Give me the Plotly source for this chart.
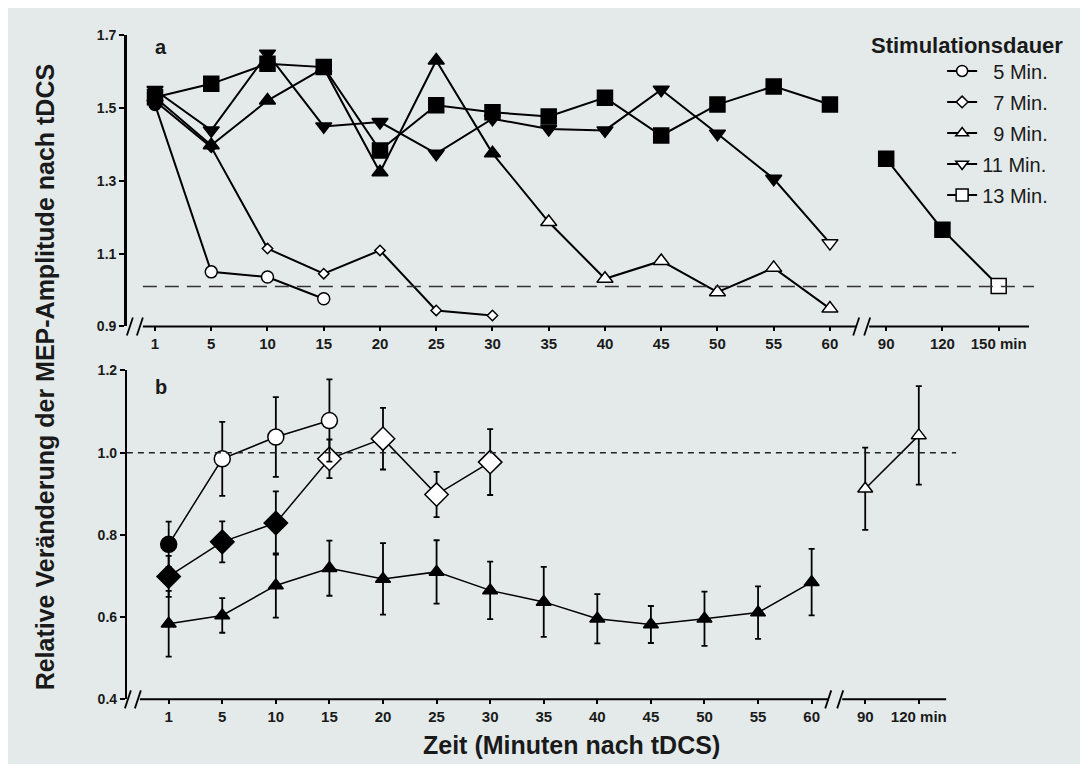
import plotly.graph_objects as go

# The page has an 8px body margin; a 1072x756 figure fills a 1088x772 page.
W, H = 1072, 756
OFF = 8
# empirical vertical calibration of the rendered page
VS, VO = 0.979, 7.7


def fx(p):
    return (p - OFF) / W


def fy(p):
    q = (p - VO) / VS
    return 1 - (q - OFF) / H


# ---------------- data ----------------
top_labels = ["1", "5", "10", "15", "20", "25", "30", "35", "40", "45",
              "50", "55", "60", "90", "120", "150 min"]
bot_labels = ["1", "5", "10", "15", "20", "25", "30", "35", "40", "45",
              "50", "55", "60", "90", "120 min"]
legend_names = ["5 Min.", "7 Min.", "9 Min.", "11 Min.", "13 Min."]

# panel a: mean relative MEP amplitude (values aligned with top_labels)
a_5 = [1.51, 1.05, 1.036, 0.976]
a_7 = [1.52, 1.393, 1.114, 1.045, 1.109, 0.944, 0.930]
a_9 = [1.53, 1.398, 1.521, 1.61, 1.324, 1.631, 1.376, 1.187, 1.031, 1.080,
       0.994, 1.061, 0.949]
a_11 = [1.55, 1.439, 1.650, 1.450, 1.462, 1.375, 1.471, 1.443, 1.439, 1.551,
        1.430, 1.306, 1.129]
a_13 = [1.53, 1.567, 1.622, 1.613, 1.384, 1.508, 1.489, 1.477, 1.529, 1.425,
        1.510, 1.560, 1.510, 1.361, 1.166, 1.011]
# significant (filled) = 1, not significant (open) = 0
a_5_sig = [1, 0, 0, 0]
a_7_sig = [1, 1, 0, 0, 0, 0, 0]
a_9_sig = [1, 1, 1, 1, 1, 1, 1, 0, 0, 0, 0, 0, 0]
a_11_sig = [1, 1, 1, 1, 1, 1, 1, 1, 1, 1, 1, 1, 0]
a_13_sig = [1, 1, 1, 1, 1, 1, 1, 1, 1, 1, 1, 1, 1, 1, 1, 0]

# panel b: mean and SEM (values aligned with bot_labels)
b_5 = [0.777, 0.985, 1.038, 1.078]
b_5_err = [0.055, 0.09, 0.097, 0.10]
b_5_sig = [1, 0, 0, 0]
b_7 = [0.699, 0.783, 0.829, 0.985, 1.034, 0.898, 0.977]
b_7_err = [0.05, 0.05, 0.077, 0.047, 0.075, 0.055, 0.08]
b_7_sig = [1, 1, 1, 0, 0, 0, 0]
b_9 = [0.584, 0.604, 0.677, 0.719, 0.693, 0.710, 0.665, 0.637, 0.596, 0.582,
       0.596, 0.611, 0.685, 0.912, 1.042]
b_9_err = [0.08, 0.042, 0.078, 0.067, 0.087, 0.077, 0.07, 0.085, 0.06, 0.045,
           0.066, 0.064, 0.081, 0.10, 0.12]
b_9_sig = [1, 1, 1, 1, 1, 1, 1, 1, 1, 1, 1, 1, 1, 0, 0]

ref_a = 1.01
ref_b = 1.0
BREAK = 13  # axis break between "60" and "90"

FONT = "Liberation Sans, Arial, sans-serif"
INK = "#1a1a1a"

fig = go.Figure()


def add_series(vals, sig, symbol, size, xa, ya, lw, mlw, err=None):
    idx = list(range(len(vals)))
    segs = [[i for i in idx if i < BREAK], [i for i in idx if i >= BREAK]]
    for seg in segs:
        if not seg:
            continue
        tr = dict(
            x=seg, y=[vals[i] for i in seg], mode="lines+markers",
            line=dict(color="black", width=lw),
            marker=dict(symbol=symbol, size=size,
                        color=["black" if sig[i] else "white" for i in seg],
                        line=dict(color="black", width=mlw)),
            showlegend=False, xaxis=xa, yaxis=ya, hoverinfo="x+y",
        )
        if err is not None:
            tr["error_y"] = dict(type="data", array=[err[i] for i in seg],
                                 visible=True, color="black", thickness=1.8,
                                 width=3)
        fig.add_trace(go.Scatter(**tr))


# panel a
add_series(a_5, a_5_sig, "circle", 12, "x", "y", 2, 1.5)
add_series(a_7, a_7_sig, "diamond", 8, "x", "y", 2, 1.5)
add_series(a_9, a_9_sig, "triangle-up", 14, "x", "y", 2, 1.5)
add_series(a_11, a_11_sig, "triangle-down", 14, "x", "y", 2, 1.5)
add_series(a_13, a_13_sig, "square", 15, "x", "y", 2, 1.5)

# panel b
add_series(b_9, b_9_sig, "triangle-up", 13, "x2", "y2", 1.5, 1.5, b_9_err)
add_series(b_7, b_7_sig, "diamond", 18, "x2", "y2", 1.5, 1.5, b_7_err)
add_series(b_5, b_5_sig, "circle", 16, "x2", "y2", 1.5, 1.5, b_5_err)

# legend entries (open symbols)
leg_symbols = ["circle", "diamond", "triangle-up", "triangle-down", "square"]
leg_sizes = [11, 9, 11, 11, 12]
for name, sym, sz in zip(legend_names, leg_symbols, leg_sizes):
    label = ("\u00a0\u00a0" + name) if len(name.split()[0]) == 1 else name
    fig.add_trace(go.Scatter(
        x=[None], y=[None], mode="lines+markers", name=label,
        legendgroup=name,
        line=dict(color="black", width=2),
        marker=dict(symbol=sym, size=sz, color="white",
                    line=dict(color="black", width=1.5)),
        xaxis="x", yaxis="y"))

tickfont = dict(family=FONT, size=15, color=INK, weight="bold")
yfont = dict(family=FONT, size=14, color=INK, weight="bold")

fig.update_layout(
    width=W, height=H, autosize=False,
    margin=dict(l=0, r=0, t=0, b=0),
    paper_bgcolor="#e4eaea", plot_bgcolor="rgba(0,0,0,0)",
    xaxis=dict(domain=[fx(127), fx(1030)], range=[-0.5, 15.54], anchor="y",
               tickmode="array", tickvals=list(range(len(top_labels))),
               ticktext=top_labels, ticks="outside", ticklen=4, tickwidth=1.5,
               tickcolor="black", showline=False, showgrid=False,
               zeroline=False, tickfont=tickfont),
    yaxis=dict(domain=[fy(326), fy(35)], range=[0.9, 1.7], anchor="x",
               tick0=0.9, dtick=0.2, tickformat=".1f", ticks="outside",
               ticklen=5, tickwidth=1.5, tickcolor="black", showline=True,
               linecolor="black", linewidth=2.5, showgrid=False,
               zeroline=False, tickfont=yfont),
    xaxis2=dict(domain=[fx(127), fx(947)], range=[-0.78, 14.51], anchor="y2",
                tickmode="array", tickvals=list(range(len(bot_labels))),
                ticktext=bot_labels, ticks="outside", ticklen=4,
                tickwidth=1.5, tickcolor="black", showline=False,
                showgrid=False, zeroline=False, tickfont=tickfont),
    yaxis2=dict(domain=[fy(699), fy(370)], range=[0.4, 1.2], anchor="x2",
                tick0=0.4, dtick=0.2, tickformat=".1f", ticks="outside",
                ticklen=5, tickwidth=1.5, tickcolor="black", showline=True,
                linecolor="black", linewidth=2, showgrid=False,
                zeroline=False, tickfont=yfont),
    legend=dict(x=fx(943), y=fy(51), xanchor="left", yanchor="top",
                font=dict(family=FONT, size=20, color=INK),
                bgcolor="rgba(0,0,0,0)", tracegroupgap=2, itemwidth=30),
    showlegend=True,
)

shapes = []
# x-axis lines with breaks
for (x0, x1, y) in [(143, 857, 326), (870, 1030, 326),
                    (140, 829, 699), (843, 947, 699)]:
    shapes.append(dict(type="line", xref="paper", yref="paper", x0=fx(x0),
                       x1=fx(x1), y0=fy(y), y1=fy(y),
                       line=dict(color="black", width=2)))
# break marks
for (xc, y) in [(130, 326), (140, 326), (857, 326), (868, 326),
                (128, 699), (138, 699), (829, 699), (841, 699)]:
    shapes.append(dict(type="line", xref="paper", yref="paper",
                       x0=fx(xc - 3), x1=fx(xc + 3), y0=fy(y + 9),
                       y1=fy(y - 9), line=dict(color="black", width=1.8)))
# reference lines
shapes.append(dict(type="line", xref="paper", yref="y", x0=fx(143),
                   x1=fx(1035), y0=ref_a, y1=ref_a,
                   line=dict(color="#333", width=1.5, dash="14px,8px")))
shapes.append(dict(type="line", xref="paper", yref="y2", x0=fx(127),
                   x1=fx(957), y0=ref_b, y1=ref_b,
                   line=dict(color="#222", width=1.5, dash="6px,5px")))
fig.update_layout(shapes=shapes)


def text_ann(text, x, y, size, angle=0):
    return dict(text=text, x=fx(x), y=fy(y), xref="paper", yref="paper",
                xanchor="center", yanchor="middle", showarrow=False,
                textangle=angle, font=dict(family=FONT, size=size, color=INK))


ann = [
    text_ann("<b>a</b>", 161, 47, 20),
    text_ann("<b>b</b>", 161, 387, 20),
    text_ann("<b>Stimulationsdauer</b>", 968, 45, 22),
    text_ann("<b>Relative Veränderung der MEP-Amplitude nach tDCS</b>",
             45, 376, 25, -90),
    text_ann("<b>Zeit (Minuten nach tDCS)</b>", 572, 745, 25),
]
fig.update_layout(annotations=ann)

fig.write_html("out.html")
